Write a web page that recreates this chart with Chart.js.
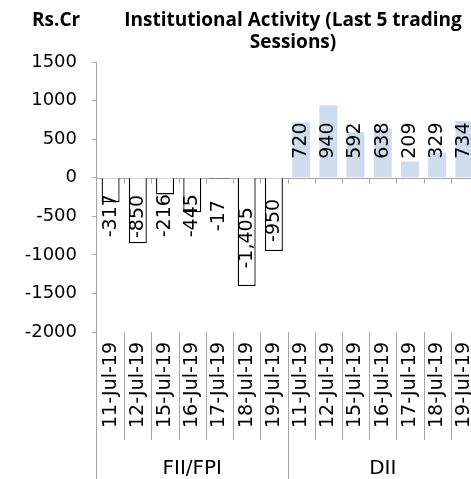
<!DOCTYPE html>
<html lang="en">
  <head>
    <meta charset="UTF-8" />
    <script src="https://cdn.jsdelivr.net/npm/chart.js@4.4.0/dist/chart.umd.min.js"></script>
    <title>Institutional Activity</title>
    <style>
      html, body { margin: 0; padding: 0; background: #fff; overflow: hidden; }
      #wrap { position: absolute; left: 0; top: 0; width: 500px; height: 479px; }
    </style>
  </head>
  <body>
    <div id="wrap"><canvas id="myChart"></canvas></div>
  </body>
  <script>
    const dates = ["11-Jul-19", "12-Jul-19", "15-Jul-19", "16-Jul-19", "17-Jul-19", "18-Jul-19", "19-Jul-19"];
    const groups = ["FII/FPI", "DII"];
    const fiiValues = [-317, -850, -216, -445, -17, -1405, -950];
    const diiValues = [720, 940, 592, 638, 209, 329, 734];
    const yMin = -2000;
    const yMax = 1500;
    const yStep = 500;
    const unitLabel = "Rs.Cr";
    const titleLines = ["Institutional Activity (Last 5 trading", "Sessions)"];

    const axisGrey = "#a6a6a6";
    const labels = dates.concat(dates);
    const empty = dates.map(() => null);

    // lines, ticks, group names and the titles
    const decor = {
      id: "decor",
      beforeDatasetsDraw(chart) {
        const ctx = chart.ctx;
        const x = chart.scales.x;
        const y = chart.scales.y;
        const n = labels.length;
        const w = (x.right - x.left) / n;
        const zero = Math.round(y.getPixelForValue(0)) + 0.5;
        ctx.save();
        ctx.strokeStyle = axisGrey;
        ctx.lineWidth = 1;
        ctx.beginPath();
        ctx.moveTo(x.left, zero);
        ctx.lineTo(x.right, zero);
        for (let k = 1; k <= n; k++) {
          const bx = Math.round(x.left + k * w) + 0.5;
          ctx.moveTo(bx, zero);
          ctx.lineTo(bx, zero + 5);
        }
        ctx.stroke();
        ctx.restore();
      },
      afterDraw(chart) {
        const ctx = chart.ctx;
        const x = chart.scales.x;
        const y = chart.scales.y;
        const n = labels.length;
        const w = (x.right - x.left) / n;
        const bottom = chart.height;
        ctx.save();
        ctx.strokeStyle = axisGrey;
        ctx.lineWidth = 1;
        ctx.beginPath();
        const ax = Math.round(x.left) - 0.5;
        ctx.moveTo(ax, y.top);
        ctx.lineTo(ax, bottom);
        for (let k = 1; k < n; k++) {
          const bx = Math.round(x.left + k * w) + 0.5;
          ctx.moveTo(bx, y.bottom);
          ctx.lineTo(bx, k % dates.length === 0 ? bottom : y.bottom + 108);
        }
        ctx.stroke();

        ctx.fillStyle = "#000";
        ctx.font = "20px 'DejaVu Sans'";
        ctx.textAlign = "center";
        ctx.textBaseline = "alphabetic";
        groups.forEach((g, i) => {
          const cx = x.left + (i * dates.length + dates.length / 2) * w;
          ctx.fillText(g, cx, 474);
        });

        ctx.font = "bold 19px 'Open Sans'";
        ctx.textAlign = "left";
        ctx.fillText(unitLabel, 32, 26);
        ctx.textAlign = "center";
        titleLines.forEach((t, i) => ctx.fillText(t, 293, 26 + i * 22));
        ctx.restore();
      },
    };

    // rotated value labels
    const valueLabels = {
      id: "valueLabels",
      afterDatasetsDraw(chart) {
        const ctx = chart.ctx;
        const zero = chart.scales.y.getPixelForValue(0);
        ctx.save();
        ctx.fillStyle = "#000";
        ctx.font = "19px 'DejaVu Sans'";
        ctx.textBaseline = "middle";
        chart.data.datasets.forEach((ds, di) => {
          chart.getDatasetMeta(di).data.forEach((el, i) => {
            const v = ds.data[i];
            if (v === null) return;
            const text = v.toLocaleString("en-US");
            ctx.save();
            if (v >= 0) {
              ctx.translate(el.x, zero - 19);
              ctx.textAlign = "left";
            } else {
              const cy = Math.max(zero + 38, (zero + el.y) / 2 + 6);
              ctx.translate(el.x, cy);
              ctx.textAlign = "center";
            }
            ctx.rotate(-Math.PI / 2);
            ctx.fillText(text, 0, 0);
            ctx.restore();
          });
        });
        ctx.restore();
      },
    };

    new Chart("myChart", {
      type: "bar",
      data: {
        labels: labels,
        datasets: [
          {
            label: groups[0],
            data: fiiValues.concat(empty),
            backgroundColor: "#ffffff",
            borderColor: "#000000",
            borderWidth: 1.3,
            grouped: false,
          },
          {
            label: groups[1],
            data: empty.concat(diiValues),
            backgroundColor: "#cfdcee",
            borderWidth: 0,
            grouped: false,
          },
        ],
      },
      options: {
        responsive: true,
        maintainAspectRatio: false,
        animation: false,
        categoryPercentage: 1,
        barPercentage: 0.66,
        layout: { padding: { top: 62, left: 0, right: 22, bottom: 0 } },
        plugins: { legend: { display: false }, tooltip: { enabled: false }, title: { display: false } },
        scales: {
          x: {
            grid: { display: false, drawTicks: false },
            border: { display: false },
            ticks: {
              autoSkip: false,
              minRotation: 90,
              maxRotation: 90,
              padding: 10,
              color: "#000",
              font: { family: "DejaVu Sans", size: 19 },
            },
            afterFit(scale) {
              scale.height = 147;
            },
          },
          y: {
            min: yMin,
            max: yMax,
            border: { display: false },
            grid: { drawOnChartArea: false, tickLength: 5, color: axisGrey },
            ticks: {
              stepSize: yStep,
              padding: 15,
              color: "#000",
              font: { family: "DejaVu Sans", size: 18 },
              callback: (v) => String(v),
            },
            afterFit(scale) {
              scale.width = 97;
            },
          },
        },
      },
      plugins: [decor, valueLabels],
    });
  </script>
</html>
